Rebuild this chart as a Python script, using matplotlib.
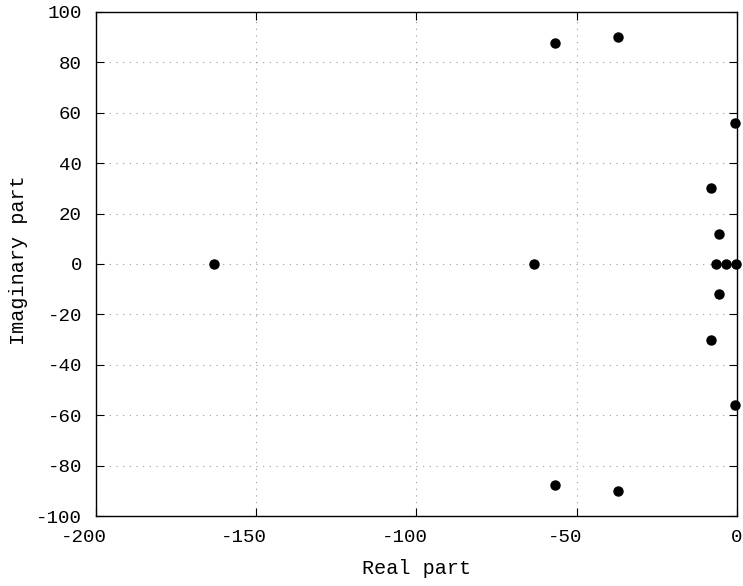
import matplotlib
matplotlib.use("Agg")
import matplotlib.pyplot as plt
from matplotlib.transforms import ScaledTranslation

real_part = [-163.0, -63.3, -56.8, -56.8, -37.1, -37.1, -0.6, -0.6,
             -8.1, -8.1, -5.6, -5.6, -6.5, -3.4, -0.3]
imag_part = [0.0, 0.0, 87.5, -87.5, 90.0, -90.0, 56.0, -56.0,
             30.3, -30.3, 12.0, -12.0, 0.0, 0.0, 0.0]
x_ticks = [-200, -150, -100, -50, 0]
y_ticks = [-100, -80, -60, -40, -20, 0, 20, 40, 60, 80, 100]

plt.rcParams['font.family'] = ['Liberation Mono', 'DejaVu Sans Mono']
plt.rcParams['font.size'] = 13.8
plt.rcParams['axes.unicode_minus'] = False

fig = plt.figure(figsize=(7.43, 5.86), dpi=100)
ax = fig.add_axes([0.129, 0.119, 0.863, 0.861])
ax.plot(real_part, imag_part, 'o', color='black', markersize=6.5, clip_on=False, zorder=3)
ax.set_xlim(-200, 0)
ax.set_ylim(-100, 100)
ax.set_xticks(x_ticks)
ax.set_yticks(y_ticks)
ax.grid(True, linestyle=(0, (1, 5)), color='#999999', linewidth=0.8)
ax.tick_params(direction='in', top=True, right=True, length=6, width=0.8, colors='black')
ax.tick_params(axis='y', pad=10)
ax.tick_params(axis='x', pad=9.5)
for s in ax.spines.values():
    s.set_linewidth(1.0)

fig.canvas.draw()
for lbl, v in zip(ax.get_xticklabels(), x_ticks):
    if v < 0:
        lbl.set_transform(lbl.get_transform() + ScaledTranslation(-12 / 100, 0, fig.dpi_scale_trans))

ax.set_xlabel('Real part', fontsize=14.5)
ax.set_ylabel('Imaginary part', fontsize=14.5)
ax.xaxis.set_label_coords(0.5, (516 - 568) / 504)
ax.xaxis.label.set_va('center')
ax.yaxis.set_label_coords((19 - 96) / 641, 0.508)
ax.yaxis.label.set_va('center')
fig.savefig('out.png', dpi=100)
